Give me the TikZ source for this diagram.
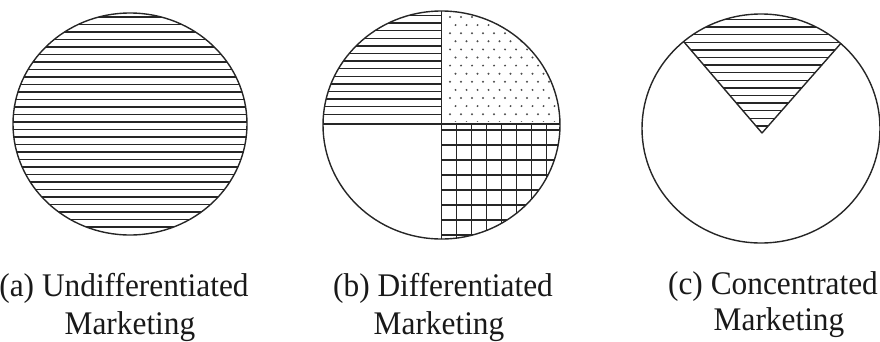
\documentclass[tikz,border=0pt]{standalone}
\usepackage{fontspec}
\setmainfont{Liberation Serif}[FakeStretch=0.95]
\begin{document}
\begin{tikzpicture}[x=1pt,y=-1pt,line join=round]
\tikzset{
  rim/.style={line width=1.4pt, draw=black!85},
  hatch/.style={line width=1.4pt, draw=black!85},
  gridline/.style={line width=1.5pt, draw=black!85},
  lbl/.style={font=\fontsize{33}{35}\selectfont, anchor=base, inner sep=0pt, text=black!90}
}
\useasboundingbox (0,0) rectangle (880,341);

% ---------- (a) undifferentiated ----------
\begin{scope}
  \clip (130,124) ellipse [x radius=117, y radius=111];
  \foreach \y in {17,24.5,...,233} \draw[hatch] (0,\y) -- (260,\y);
\end{scope}
\draw[rim] (130,124) ellipse [x radius=117, y radius=111];

% ---------- (b) differentiated ----------
% upper left: horizontal hatching
\begin{scope}
  \clip (441.5,125) ellipse [x radius=118.5, y radius=114];
  \clip (300,0) rectangle (441.5,124);
  \foreach \y in {15.5,23.1,...,118} \draw[hatch] (300,\y) -- (442,\y);
\end{scope}
% upper right: dots
\begin{scope}
  \clip (441.5,125) ellipse [x radius=118.5, y radius=114];
  \clip (444,0) rectangle (570,121);
  \foreach \r in {0,...,14} {
    \pgfmathsetmacro{\yy}{17+8.1*\r}
    \pgfmathsetmacro{\xo}{mod(\r,2)*5.5}
    \foreach \c in {0,...,11} {
      \fill[black!70] (450+\xo+11*\c,\yy) circle [radius=1.1];
    }
  }
\end{scope}
% lower right: grid
\begin{scope}
  \clip (441.5,125) ellipse [x radius=118.5, y radius=114];
  \clip (441.5,124) rectangle (570,250);
  \foreach \x in {456.5,471.5,...,560} \draw[gridline] (\x,124) -- (\x,250);
  \foreach \y in {130,145,...,245} \draw[gridline] (441,\y) -- (570,\y);
\end{scope}
% dividers
\begin{scope}
  \clip (441.5,125) ellipse [x radius=118.5, y radius=114];
  \draw[gridline] (441.5,0) -- (441.5,250);
  \draw[gridline] (320,124) -- (565,124);
\end{scope}
\draw[rim] (441.5,125) ellipse [x radius=118.5, y radius=114];

% ---------- (c) concentrated ----------
\begin{scope}
  \clip (761,128.5) ellipse [x radius=119, y radius=114.5];
  \begin{scope}
    \clip (762,133) -- (648,0) -- (879,0) -- cycle;
    \foreach \y in {19.5,27.1,...,130} \draw[hatch] (640,\y) -- (880,\y);
  \end{scope}
  \draw[rim] (648,0) -- (762,133) -- (879,0);
\end{scope}
\draw[rim] (761,128.5) ellipse [x radius=119, y radius=114.5];

% ---------- labels ----------
\node[lbl] (la1) at (124,296) {(a) Undifferentiated};
\node[lbl] (la2) at (130,334) {Marketing};
\node[lbl] (lb1) at (443,296) {(b) Differentiated};
\node[lbl] (lb2) at (439,334) {Marketing};
\node[lbl] (lc1) at (773,294) {(c) Concentrated};
\node[lbl] (lc2) at (779,330) {Marketing};
\end{tikzpicture}
\end{document}
